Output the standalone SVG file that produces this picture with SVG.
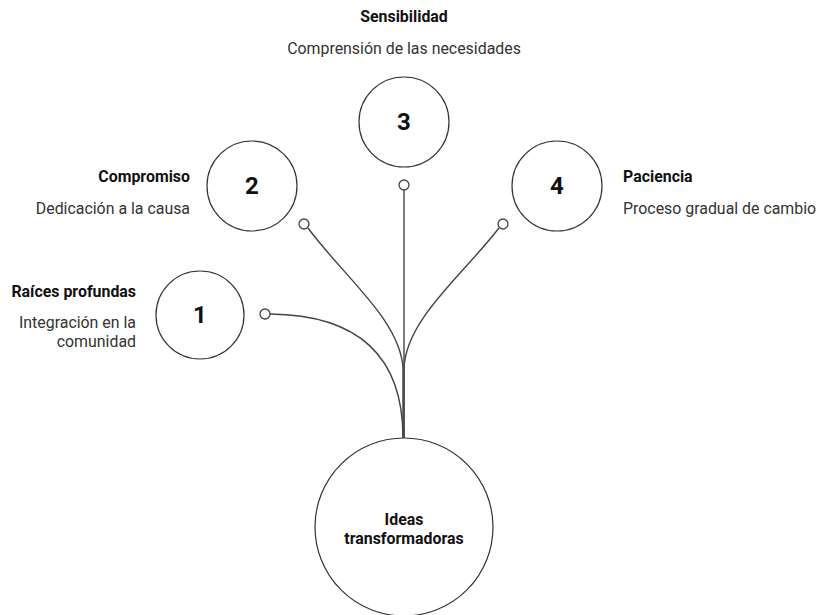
<svg xmlns="http://www.w3.org/2000/svg" width="818" height="615" viewBox="0 0 818 615">
  <style>
    .node { fill: #ffffff; stroke: #333333; stroke-width: 1.2; }
    .dot { fill: #ffffff; stroke: #444444; stroke-width: 1.3; }
    .link { fill: none; stroke: #444444; stroke-width: 1.4; }
    .num { font-family: Roboto, "Liberation Sans", sans-serif; font-size: 24px; font-weight: 700; fill: #111111; text-anchor: middle; }
    .title { font-family: Roboto, "Liberation Sans", sans-serif; font-size: 15.9px; font-weight: 700; fill: #111111; }
    .desc { font-family: Roboto, "Liberation Sans", sans-serif; font-size: 15.9px; fill: #333333; }
    .hub { font-family: Roboto, "Liberation Sans", sans-serif; font-size: 15.9px; font-weight: 700; fill: #111111; text-anchor: middle; }
  </style>
  <rect width="818" height="615" fill="#ffffff"/>

  <g id="connectors">
    <path class="link" d="M270,314 C362,315 403,360 403,438"/>
    <path class="link" d="M308,228 C345,278 400,320 403,368 L403,438"/>
    <path class="link" d="M404,190 L404,438"/>
    <path class="link" d="M499,228 C460,278 406,320 404,368 L404,438"/>
    <circle class="dot" cx="265" cy="314" r="5"/>
    <circle class="dot" cx="304" cy="224" r="5"/>
    <circle class="dot" cx="404" cy="185" r="5"/>
    <circle class="dot" cx="503" cy="224" r="5"/>
  </g>

  <g id="hub">
    <circle class="node" cx="404" cy="527" r="89"/>
    <text class="hub" x="404" y="525">Ideas</text>
    <text class="hub" x="404" y="544">transformadoras</text>
  </g>

  <g id="node-1">
    <circle class="node" cx="200" cy="315" r="44"/>
    <text class="num" x="200" y="323">1</text>
    <text class="title" x="136" y="297" text-anchor="end">Raíces profundas</text>
    <text class="desc" x="136" y="328" text-anchor="end">Integración en la</text>
    <text class="desc" x="136" y="347" text-anchor="end">comunidad</text>
  </g>

  <g id="node-2">
    <circle class="node" cx="252" cy="186" r="45"/>
    <text class="num" x="252" y="194">2</text>
    <text class="title" x="190" y="182" text-anchor="end">Compromiso</text>
    <text class="desc" x="190" y="214" text-anchor="end">Dedicación a la causa</text>
  </g>

  <g id="node-3">
    <circle class="node" cx="404" cy="122" r="45"/>
    <text class="num" x="404" y="130">3</text>
    <text class="title" x="404" y="22" text-anchor="middle">Sensibilidad</text>
    <text class="desc" x="404" y="54" text-anchor="middle">Comprensión de las necesidades</text>
  </g>

  <g id="node-4">
    <circle class="node" cx="557" cy="186" r="45"/>
    <text class="num" x="557" y="194">4</text>
    <text class="title" x="623" y="182">Paciencia</text>
    <text class="desc" x="623" y="214">Proceso gradual de cambio</text>
  </g>
</svg>
